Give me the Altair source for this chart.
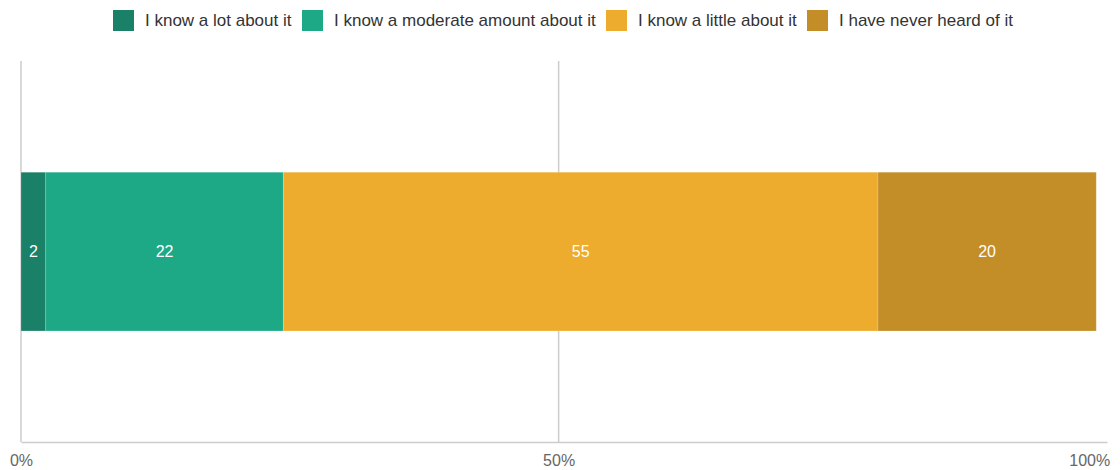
import altair as alt
import pandas as pd

categories = [
    "I know a lot about it",
    "I know a moderate amount about it",
    "I know a little about it",
    "I have never heard of it",
]
values = [2.3, 22.1, 55.3, 20.3]
labels = ["2", "22", "55", "20"]
colors = ["#1b8068", "#1da886", "#edac2d", "#c38d27"]
grid_ticks = [0, 50]
axis_ticks = [0, 50, 100]

df = pd.DataFrame({
    "row": ["all"] * len(categories),
    "category": categories,
    "value": values,
    "label": labels,
    "order": list(range(len(categories))),
})
grid_df = pd.DataFrame({"g": grid_ticks})

xscale = alt.Scale(domain=[0, 101], nice=False, zero=True)
yscale = alt.Scale(paddingInner=0, paddingOuter=0.7)

xaxis = alt.Axis(
    values=axis_ticks,
    labelExpr="datum.value + '%'",
    grid=False,
    ticks=False,
    domainColor="#cccccc",
    domainWidth=1.5,
    labelColor="#666666",
    labelFontSize=16,
    labelFont="Liberation Sans",
    labelPadding=10,
    labelFlush=False,
    labelOffset=alt.condition("datum.value == 100", alt.value(-7), alt.value(0)),
    title=None,
)

grid = alt.Chart(grid_df).mark_rule(color="#cccccc", strokeWidth=1.5).encode(
    x=alt.X("g:Q", scale=xscale, axis=xaxis),
)

bars = alt.Chart(df).mark_bar(stroke="#ffffff", strokeWidth=0.3, strokeOpacity=0.6).encode(
    x=alt.X("value:Q", stack="zero", scale=xscale, axis=xaxis),
    y=alt.Y("row:N", scale=yscale, axis=None),
    color=alt.Color(
        "category:N",
        scale=alt.Scale(domain=categories, range=colors),
        sort=categories,
        legend=alt.Legend(
            title=None,
            orient="none",
            direction="horizontal",
            legendX=92,
            legendY=-51,
            symbolType="square",
            symbolSize=440,
            symbolStrokeWidth=0,
            symbolOpacity=1,
            labelFontSize=17,
            labelFont="Liberation Sans",
            labelColor="#333333",
            labelOffset=11,
            labelLimit=0,
            columnPadding=10,
        ),
    ),
    order=alt.Order("order:Q"),
)

text = alt.Chart(df).transform_stack(
    stack="value", groupby=["row"], as_=["x0", "x1"], sort=[alt.SortField("order")]
).transform_calculate(
    mid="(datum.x0 + datum.x1) / 2"
).mark_text(color="white", fontSize=16, font="Liberation Sans").encode(
    x=alt.X("mid:Q", scale=xscale, axis=xaxis),
    y=alt.Y("row:N", scale=yscale, axis=None),
    text="label:N",
)

chart = alt.layer(grid, bars, text).properties(
    width=1086,
    height=381,
    padding={"left": 13, "top": 53, "right": 5, "bottom": 26},
    autosize=alt.AutoSizeParams(type="none"),
).configure_view(stroke=None)

chart.save("out.html", embed_options={"renderer": "svg", "actions": False})
